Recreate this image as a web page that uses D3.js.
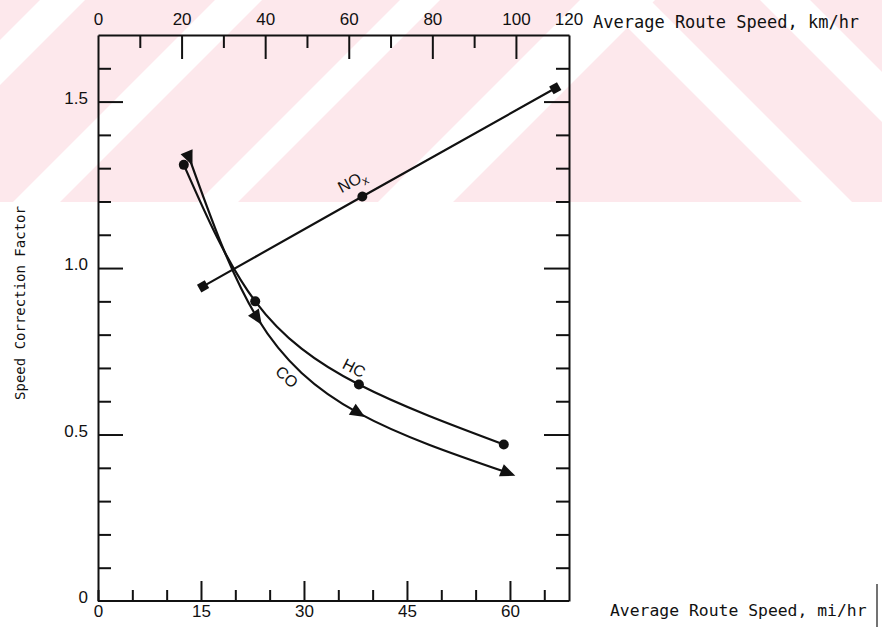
<!DOCTYPE html>
<html>
<head>
<meta charset="utf-8">
<script src="https://cdnjs.cloudflare.com/ajax/libs/d3/7.8.5/d3.min.js"></script>
<style>
  body { margin: 0; background: #fff; }
  svg { display: block; }
  .axis path, .axis line { stroke: #111; stroke-width: 2; }
  .axis text { font-family: "Liberation Sans", sans-serif; font-size: 17px; fill: #111; }
  .title { font-family: "DejaVu Sans Mono", monospace; fill: #111; }
  .curve { fill: none; stroke: #111; stroke-width: 2.2; }
  .lbl { font-family: "Liberation Sans", sans-serif; font-size: 16px; fill: #111; }
</style>
</head>
<body>
<div id="chart"></div>
<script>
// speeds in mi/hr, values are speed correction factors
const hcSpeed = [12.5, 22.9, 38.0, 59.1];
const hcFactor = [1.31, 0.90, 0.65, 0.47];
const coSpeed = [13.3, 23.2, 37.9, 59.7];
const coFactor = [1.33, 0.85, 0.565, 0.385];
const noxSpeed = [15.3, 38.5, 66.6];
const noxFactor = [0.945, 1.215, 1.54];

const mphTicks = d3.range(0, 66, 5);
const mphLabels = [0, 15, 30, 45, 60];
const kmTicks = d3.range(0, 101, 10);
const kmLabels = [0, 20, 40, 60, 80, 100];
const factorTicks = d3.range(0, 1.65, 0.1).map(v => +v.toFixed(1));
const factorLabels = [0, 0.5, 1.0, 1.5];

const width = 882, height = 627;

const svg = d3.select("#chart").append("svg")
    .attr("width", width)
    .attr("height", height);

// faint pink watermark band across the top of the scan
const wm = svg.append("g");
svg.append("clipPath").attr("id", "wmclip")
    .append("rect").attr("x", 0).attr("y", 0).attr("width", width).attr("height", 202);
const wmg = wm.attr("clip-path", "url(#wmclip)");
wmg.append("rect").attr("width", width).attr("height", 202).attr("fill", "#fde8ec");
const H = 202;
// "/" white gaps, given by x + y range
[[40, 85], [215, 262], [400, 440], [580, 655]].forEach(([c1, c2]) => {
    wmg.append("path").attr("fill", "#fff")
        .attr("d", `M${c1},0L${c2},0L${c2 - H},${H}L${c1 - H},${H}Z`);
});
// "\" white gaps on the right, given by x - y range
[[600, 650], [760, 810]].forEach(([d1, d2]) => {
    wmg.append("path").attr("fill", "#fff")
        .attr("d", `M${d1},0L${d2},0L${d2 + H},${H}L${d1 + H},${H}Z`);
});

const x = d3.scaleLinear().domain([0, 68.6]).range([98, 569]);
const xKm = d3.scaleLinear().domain([0, 112.7]).range([98, 569]);
const y = d3.scaleLinear().domain([0, 1.7]).range([601, 35]);

const isMajor = (arr, v) => arr.some(a => Math.abs(a - v) < 1e-6);

// bottom axis, mi/hr
const gB = svg.append("g").attr("class", "axis")
    .attr("transform", `translate(0,${y(0)})`)
    .call(d3.axisBottom(x).tickValues(mphTicks).tickSizeInner(-11).tickSizeOuter(0).tickPadding(4)
        .tickFormat(d => isMajor(mphLabels, d) ? d : ""));
gB.selectAll(".tick line").attr("y2", d => isMajor(mphLabels, d) && d > 0 ? -20 : -11);
gB.select(".domain").attr("d", `M${x.range()[0]},0H${x.range()[1]}`);

// top axis, km/hr
const gT = svg.append("g").attr("class", "axis")
    .attr("transform", `translate(0,${y(1.7)})`)
    .call(d3.axisTop(xKm).tickValues(kmTicks).tickSizeInner(-12).tickSizeOuter(0).tickPadding(10)
        .tickFormat(d => isMajor(kmLabels, d) ? d : ""));
gT.selectAll(".tick line").attr("y2", d => d === 0 ? 0 : (isMajor(kmLabels, d) ? 24 : 13));
gT.append("text").attr("x", xKm.range()[1]).attr("y", -10)
    .attr("text-anchor", "middle").text("120");

// left axis
const gL = svg.append("g").attr("class", "axis")
    .attr("transform", `translate(${x(0)},0)`)
    .call(d3.axisLeft(y).tickValues(factorTicks).tickSizeInner(-13).tickSizeOuter(0).tickPadding(10)
        .tickFormat(d => isMajor(factorLabels, d) ? (d === 0 ? "0" : d3.format(".1f")(d)) : ""));
gL.selectAll(".tick line").attr("x2", d => d === 0 ? 0 : (isMajor(factorLabels, d) ? 25 : 13));
gL.selectAll(".tick text").attr("dy", "0.1em");

// right axis
const gR = svg.append("g").attr("class", "axis")
    .attr("transform", `translate(${x.range()[1]},0)`)
    .call(d3.axisRight(y).tickValues(factorTicks).tickSizeInner(-13).tickSizeOuter(0).tickFormat(""));
gR.selectAll(".tick line").attr("x2", d => d === 0 ? 0 : (isMajor(factorLabels, d) ? -25 : -13));

// axis titles
svg.append("text").attr("class", "title")
    .attr("x", 593).attr("y", 28).style("font-size", "17px")
    .text("Average Route Speed, km/hr");
svg.append("text").attr("class", "title")
    .attr("x", 610).attr("y", 616).style("font-size", "16.4px")
    .text("Average Route Speed, mi/hr");
svg.append("text").attr("class", "title")
    .attr("transform", "translate(25,303) rotate(-90)")
    .attr("text-anchor", "middle").style("font-size", "14px")
    .text("Speed Correction Factor");
svg.append("line").attr("x1", 877).attr("x2", 877).attr("y1", 584).attr("y2", 627)
    .attr("stroke", "#444").attr("stroke-width", 1.5);

// series
const pts = (sp, f) => sp.map((s, i) => [x(s), y(f[i])]);
const hcPts = pts(hcSpeed, hcFactor);
const coPts = pts(coSpeed, coFactor);
const noxPts = pts(noxSpeed, noxFactor);

const smooth = d3.line().curve(d3.curveNatural);
const straight = d3.line();

svg.append("path").attr("class", "curve").attr("d", smooth(hcPts));
svg.append("path").attr("class", "curve").attr("d", smooth(coPts));
svg.append("path").attr("class", "curve").attr("d", straight(noxPts));

// HC dots
svg.selectAll(".hc").data(hcPts).enter().append("circle")
    .attr("cx", d => d[0]).attr("cy", d => d[1]).attr("r", 5).attr("fill", "#111");

// CO arrowheads pointing along the curve
const angleAt = (arr, i) => {
    const a = arr[Math.max(0, i - 1)], b = arr[Math.min(arr.length - 1, i + 1)];
    return Math.atan2(b[1] - a[1], b[0] - a[0]) * 180 / Math.PI;
};
svg.selectAll(".co").data(coPts).enter().append("path")
    .attr("d", "M8,0L-7,-6.5L-7,6.5Z").attr("fill", "#111")
    .attr("transform", (d, i) => `translate(${d[0]},${d[1]}) rotate(${angleAt(coPts, i)})`);

// NOx markers
const noxAngle = angleAt(noxPts, 1);
svg.selectAll(".nox").data(noxPts).enter().append("path")
    .attr("fill", "#111")
    .attr("d", (d, i) => i === 1 ? d3.symbol(d3.symbolCircle, 78)() : d3.symbol(d3.symbolSquare, 80)())
    .attr("transform", d => `translate(${d[0]},${d[1]}) rotate(${noxAngle})`);

// series labels
const nox = svg.append("text").attr("class", "lbl")
    .attr("transform", `translate(${x(37.4)},${y(1.246)}) rotate(-28)`)
    .attr("text-anchor", "middle");
nox.append("tspan").text("NO");
nox.append("tspan").attr("dy", 4).style("font-size", "12px").text("x");
svg.append("text").attr("class", "lbl")
    .attr("transform", `translate(${x(37.3)},${y(0.7)}) rotate(27)`)
    .attr("text-anchor", "middle").attr("dy", "0.35em").text("HC");
svg.append("text").attr("class", "lbl")
    .attr("transform", `translate(${x(27.5)},${y(0.673)}) rotate(42)`)
    .attr("text-anchor", "middle").attr("dy", "0.35em").text("CO");
</script>
</body>
</html>
